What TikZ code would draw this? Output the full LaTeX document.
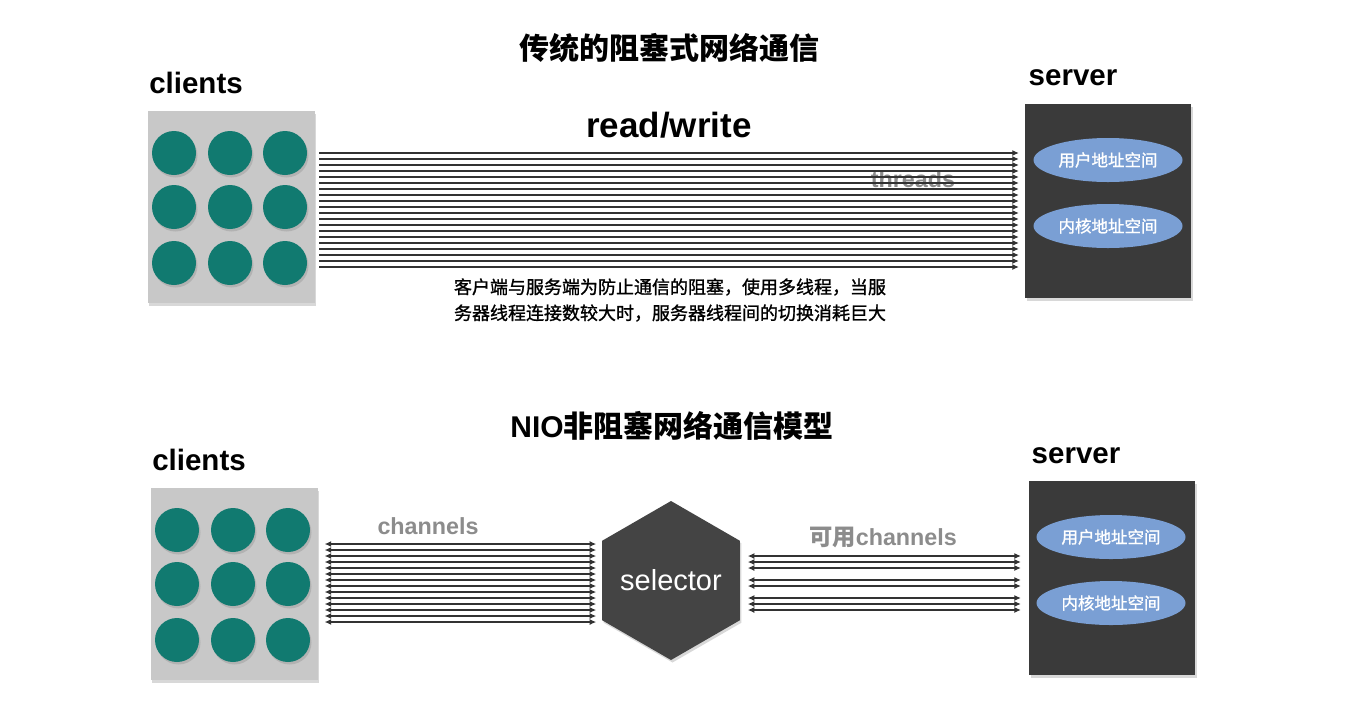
\documentclass[tikz,border=0pt]{standalone}
\usepackage{fontspec}
\setmainfont{Liberation Sans}
\newfontfamily\cjk{Noto Sans CJK SC}
\newfontfamily\cjkm{Noto Sans CJK SC}[FakeBold=1.2]
\usetikzlibrary{arrows.meta,shapes.geometric,shadows}
\definecolor{teal1}{RGB}{17,122,112}
\definecolor{boxgray}{RGB}{200,200,200}
\definecolor{srv}{RGB}{58,58,58}
\definecolor{hexc}{RGB}{68,68,68}
\definecolor{ellblue}{RGB}{122,159,212}
\definecolor{linec}{RGB}{50,50,50}
\definecolor{lblgray}{RGB}{140,140,140}
\begin{document}
\begin{tikzpicture}[x=1pt,y=-1pt,
  shd/.style={drop shadow={shadow xshift=1.5pt,shadow yshift=-2.5pt,opacity=0.3}},
  clientbox/.style={fill=boxgray, minimum width=167pt, minimum height=192pt, inner sep=0pt, shd},
  dot/.style={circle, fill=teal1, minimum size=44pt, inner sep=0pt, shd},
  serverbox/.style={fill=srv, minimum width=166pt, minimum height=194pt, inner sep=0pt, shd},
  space/.style={ellipse, fill=ellblue, minimum width=149pt, minimum height=44pt, inner sep=0pt, text=white, font=\cjkm\fontsize{16.5}{18}\selectfont},
  hexa/.style={regular polygon, regular polygon sides=6, regular polygon rotate=30, minimum size=159pt, inner sep=0pt, outer sep=0pt, fill=hexc, shd},
  tip/.tip={Latex[length=6.5pt,width=6pt]},
  arr/.style={draw=linec, line width=1.1pt, -tip},
  darr/.style={draw=linec, line width=1.1pt, tip-tip},
  title/.style={font=\cjk\bfseries\fontsize{30}{33}\selectfont, inner sep=0pt},
  lbl/.style={font=\bfseries\fontsize{29.5}{33}\selectfont, inner sep=0pt},
  glbl/.style={font=\bfseries\fontsize{23.3}{26}\selectfont, text=lblgray, inner sep=0pt},
]
\fill[white] (0,0) rectangle (1348,716);
\useasboundingbox (0,0) rectangle (1348,716);

% ---------- top ----------
\node[title] (t1) at (669,48) {传统的阻塞式网络通信};
\node[lbl] (clients1) at (196,83) {clients};
\node[lbl] (server1) at (1073,78) {server};
\node[font=\bfseries\fontsize{35}{38}\selectfont, inner sep=0pt] (rw) at (669,125) {read/write};

\node[clientbox] (cl1) at (231,207) {};
\foreach \i/\x in {1/174,2/230,3/285}
  \foreach \j/\y in {1/153,2/207,3/263}
    \node[dot] (ca-\i-\j) at (\x,\y) {};

\node[serverbox] (sv1) at (1108,201) {};
\node[space] (us1) at (1108,160) {用户地址空间};
\node[space] (ks1) at (1108,226) {内核地址空间};

\node[glbl] (threads) at (913,179) {threads};
\foreach \k [evaluate=\k as \yy using 153+6*\k] in {0,...,19}
  \draw[arr, shorten <=4.5pt, shorten >=6pt] (cl1.east |- 0,\yy) -- (sv1.west |- 0,\yy);

\node[font=\cjkm\fontsize{18}{26}\selectfont, align=center, inner sep=0pt] (desc) at (670,300)
  {客户端与服务端为防止通信的阻塞，使用多线程，当服\\务器线程连接数较大时，服务器线程间的切换消耗巨大};

% ---------- bottom ----------
\node[title] (t2) at (672,426) {\fontspec{Liberation Sans}NIO\cjk 非阻塞网络通信模型};
\node[lbl] (clients2) at (199,460) {clients};
\node[lbl] (server2) at (1076,456) {server};

\node[clientbox] (cl2) at (234,584) {};
\foreach \i/\x in {1/177,2/233,3/288}
  \foreach \j/\y in {1/530,2/584,3/640}
    \node[dot] (cb-\i-\j) at (\x,\y) {};

\node[hexa] (sel) at (671,580.5) {};
\node[text=white, font=\fontsize{29}{32}\selectfont, inner sep=0pt] (seltxt) at (sel.center) {selector};

\node[serverbox] (sv2) at (1112,578) {};
\node[space] (us2) at (1111,537) {用户地址空间};
\node[space] (ks2) at (1111,603) {内核地址空间};

\node[glbl] (chan) at (428,526) {channels};
\node[glbl] (chan2) at (883,537) {\cjk 可用\fontspec{Liberation Sans}channels};

\foreach \k [evaluate=\k as \yy using 544+6*\k] in {0,...,13}
  \draw[darr, shorten <=7pt, shorten >=6pt] (cl2.east |- 0,\yy) -- (sel.west |- 0,\yy);
\foreach \yy in {556,562,568,580,586,598,604,610}
  \draw[darr, shorten <=8pt, shorten >=8pt] (sel.east |- 0,\yy) -- (sv2.west |- 0,\yy);
\end{tikzpicture}
\end{document}
